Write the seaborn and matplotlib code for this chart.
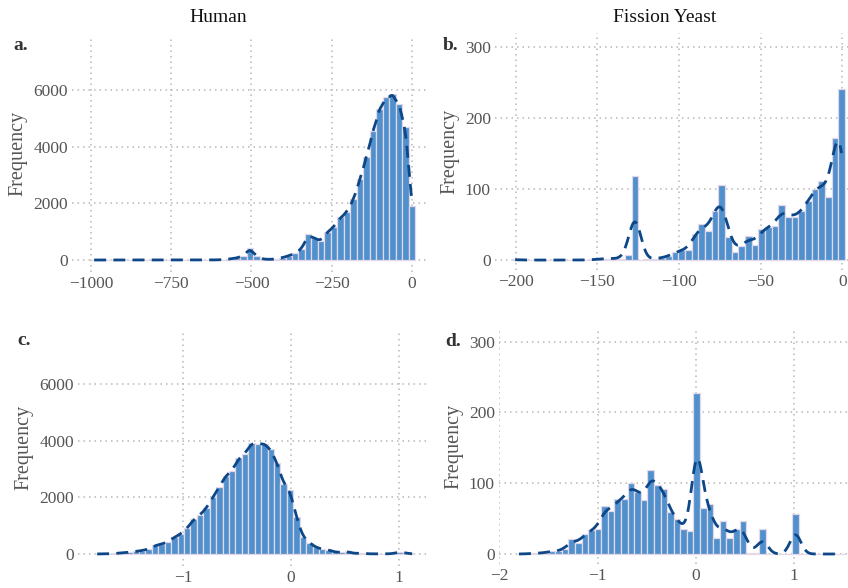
import numpy as np
import pandas as pd
import matplotlib
matplotlib.use("Agg")
import matplotlib.pyplot as plt
import seaborn as sns

# ---------------- data ----------------
# Panel a: Human, 50 bins
a_min, a_max = -1000.0, 10.0
a_counts = [0, 0, 0, 0, 0, 0, 0, 0, 0, 0,
            0, 0, 0, 0, 0, 0, 0, 0, 2, 5,
            10, 40, 70, 150, 410, 140, 30, 20, 35, 80,
            150, 235, 390, 900, 760, 670, 1000, 1180, 1500, 1700,
            2140, 2860, 3650, 4560, 5340, 5740, 5860, 5500, 4700, 1900]

# Panel b: Fission yeast, 50 bins
b_min, b_max = -202.4, 1.6
b_counts = [1, 0, 0, 0, 0, 0, 0, 0, 0, 0,
            0, 0, 1, 2, 2, 2, 2, 7, 118, 0,
            1, 2, 3, 5, 11, 14, 14, 37, 50, 41,
            69, 105, 32, 12, 20, 34, 21, 44, 46, 48,
            77, 61, 60, 69, 83, 100, 111, 88, 171, 241]

# Panel c: Human, 50 bins
c_min, c_max = -1.828, 1.152
c_counts = [0, 5, 10, 20, 47, 60, 90, 120, 175, 305,
            340, 435, 590, 705, 905, 1220, 1375, 1620, 2000, 2375,
            2765, 2940, 3375, 3530, 3930, 3900, 3900, 3700, 3200, 2460,
            2260, 1290, 590, 400, 235, 170, 150, 60, 60, 90,
            10, 40, 5, 5, 5, 5, 10, 80, 30, 5]

# Panel d: Fission yeast, 50 bins
d_min, d_max = -1.833, 1.517
d_counts = [0, 0, 1, 1, 2, 4, 4, 7, 21, 15,
            28, 34, 36, 68, 61, 77, 77, 101, 87, 76,
            119, 97, 92, 59, 49, 35, 32, 228, 65, 70,
            23, 47, 22, 35, 46, 1, 2, 35, 0, 0,
            0, 0, 57, 0, 0, 0, 0, 0, 0, 0]

col_titles = ["Human", "Fission Yeast"]
panel_letters = ["a.", "b.", "c.", "d."]
a_xticks = [-1000, -750, -500, -250, 0]
b_xticks = [-200, -150, -100, -50, 0]
c_xticks = [-1, 0, 1]
d_xticks = [-2, -1, 0, 1]
human_yticks = [0, 2000, 4000, 6000]
yeast_yticks = [0, 100, 200, 300]

# ---------------- style ----------------
sns.set_theme(style="white")
plt.rcParams["font.family"] = ["Liberation Serif", "DejaVu Serif"]
plt.rcParams["axes.unicode_minus"] = True

BAR = "#4f90cd"
EDGE = "#e4d8e8"
LINE = "#0d4787"
GRID = "#b8b8b8"
TICK = "#555555"

W, H = 848, 588
fig = plt.figure(figsize=(W / 100, H / 100), dpi=100)


def px_axes(x0, y0, x1, y1):
    return fig.add_axes([x0 / W, 1 - y1 / H, (x1 - x0) / W, (y1 - y0) / H])


panels = [
    (a_counts, a_min, a_max, (72, 35.5, 428, 272.0), (-1059, 49.8), (-424, 7925), a_xticks, human_yticks, 11.0),
    (b_counts, b_min, b_max, (495, 33.2, 848, 270.0), (-212.7, 3.5), (-14, 319), b_xticks, yeast_yticks, 3.6),
    (c_counts, c_min, c_max, (78, 329.5, 428, 566.0), (-1.976, 1.269), (-424, 7925), c_xticks, human_yticks, 0.036),
    (d_counts, d_min, d_max, (499, 328.2, 848, 563.9), (-2.003, 1.549), (-14, 319), d_xticks, yeast_yticks, 0.055),
]

for i, (counts, lo, hi, rect, xlim, ylim, xt, yt, bw) in enumerate(panels):
    ax = px_axes(*rect)
    counts = np.asarray(counts, dtype=float)
    nb = len(counts)
    width = (hi - lo) / nb
    centers = lo + width * (np.arange(nb) + 0.5)
    df = pd.DataFrame({"value": centers, "count": counts})
    mean = np.sum(centers * counts) / counts.sum()
    std = np.sqrt(np.sum(counts * (centers - mean) ** 2) / counts.sum())
    sns.histplot(data=df, x="value", weights="count", bins=nb, binrange=(lo, hi), ax=ax,
                 color=BAR, alpha=1.0, edgecolor=EDGE, linewidth=0.9,
                 kde=True, kde_kws={"bw_method": bw / std, "cut": 0, "gridsize": 400},
                 line_kws={"linestyle": (0, (4.3, 2.6)), "linewidth": 2.0})
    for ln in ax.lines:
        ln.set_color(LINE)
        ln.set_zorder(5)
    ax.set_xlim(*xlim)
    ax.set_ylim(*ylim)
    ax.set_xticks(xt)
    ax.set_yticks(yt)
    ax.set_xlabel("")
    ax.set_ylabel("Frequency", fontsize=14.5, color=TICK, labelpad=4)
    for s in ax.spines.values():
        s.set_visible(False)
    ax.set_axisbelow(True)
    ax.grid(True, linestyle=(0, (1.0, 2.6)), color=GRID, linewidth=1.1)
    ax.tick_params(length=0, labelsize=12.5, colors=TICK, pad=3)

fig.text(218 / W, 1 - 17 / H, col_titles[0], ha="center", va="center", fontsize=14, color="#111111")
fig.text(665 / W, 1 - 17 / H, col_titles[1], ha="center", va="center", fontsize=14, color="#111111")

letter_pos = [(13, 50), (443, 50), (17, 345), (445, 346)]
for lab, (lx, ly) in zip(panel_letters, letter_pos):
    fig.text(lx / W, 1 - ly / H, lab, ha="left", va="baseline", fontsize=14,
             fontweight="bold", color="#333333")

fig.savefig("out.png", dpi=100)
